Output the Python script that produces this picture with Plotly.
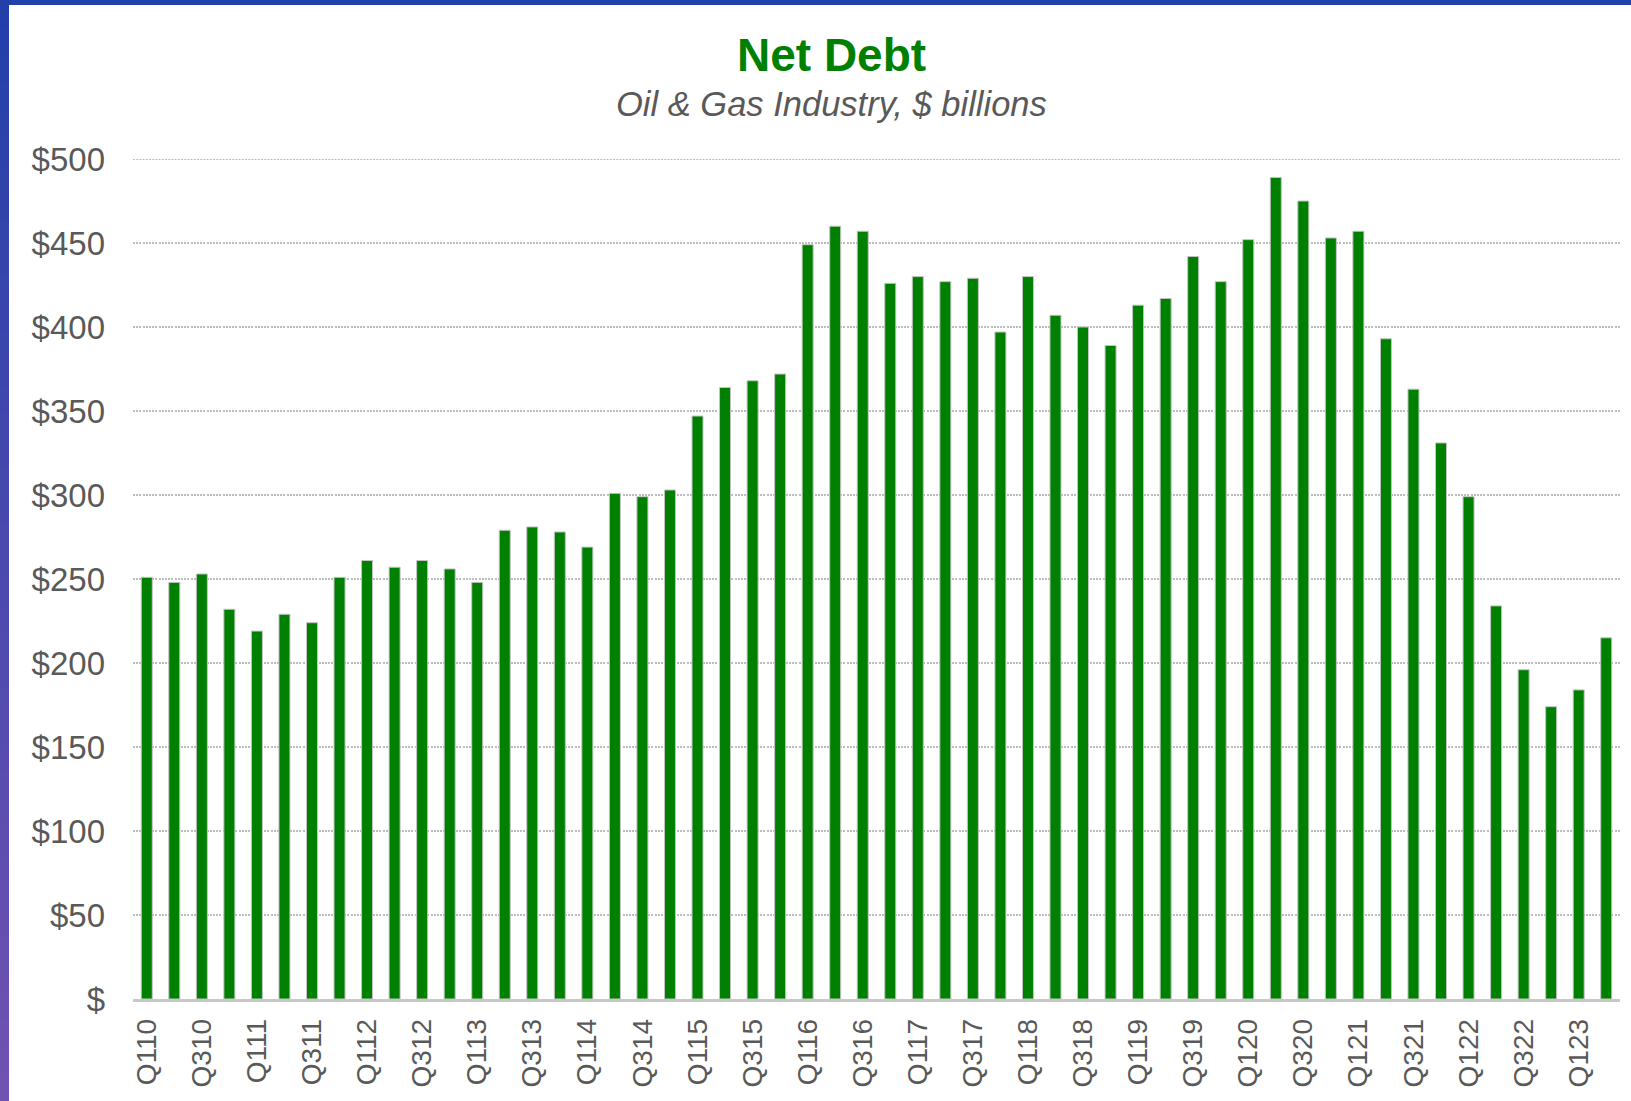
import plotly.graph_objects as go

categories = [
    "Q110", "Q210", "Q310", "Q410",
    "Q111", "Q211", "Q311", "Q411",
    "Q112", "Q212", "Q312", "Q412",
    "Q113", "Q213", "Q313", "Q413",
    "Q114", "Q214", "Q314", "Q414",
    "Q115", "Q215", "Q315", "Q415",
    "Q116", "Q216", "Q316", "Q416",
    "Q117", "Q217", "Q317", "Q417",
    "Q118", "Q218", "Q318", "Q418",
    "Q119", "Q219", "Q319", "Q419",
    "Q120", "Q220", "Q320", "Q420",
    "Q121", "Q221", "Q321", "Q421",
    "Q122", "Q222", "Q322", "Q422",
    "Q123", "Q223",
]

net_debt = [
    251, 248, 253, 232,
    219, 229, 224, 251,
    261, 257, 261, 256,
    248, 279, 281, 278,
    269, 301, 299, 303,
    347, 364, 368, 372,
    449, 460, 457, 426,
    430, 427, 429, 397,
    430, 407, 400, 389,
    413, 417, 442, 427,
    452, 489, 475, 453,
    457, 393, 363, 331,
    299, 234, 196, 174,
    184, 215,
]

x_tick_labels = categories[::2]
y_tick_values = [0, 50, 100, 150, 200, 250, 300, 350, 400, 450, 500]
y_tick_labels = ["$", "$50", "$100", "$150", "$200", "$250", "$300", "$350", "$400", "$450", "$500"]

W, H = 1631, 1101
ML, MR, MT, MB = 133, 11, 159, 102
PW = W - ML - MR
PH = H - MT - MB


def px_x(px):
    return (px - ML) / PW


def px_y(py):
    return (H - MB - py) / PH


FONT = "Liberation Sans, Arial, sans-serif"
GRID_COLOR = "#bdbdbd"
GRID_DASH = "2px,1.2px"

fig = go.Figure()
fig.add_trace(go.Bar(
    x=categories,
    y=net_debt,
    marker=dict(color="#008000", line=dict(color="#c4c4c4", width=1)),
    hoverinfo="x+y",
))

shapes = []
# top gridline (Plotly omits gridline on the range edge)
shapes.append(dict(type="line", xref="paper", yref="y", x0=0, x1=1,
                   y0=y_tick_values[-1], y1=y_tick_values[-1],
                   line=dict(color=GRID_COLOR, width=2, dash=GRID_DASH), layer="below"))
# left gradient strip
n = 40
c0 = (35, 64, 170)
c1 = (112, 82, 178)
for i in range(n):
    t = i / (n - 1)
    col = "rgb(%d,%d,%d)" % tuple(round(a + (b - a) * t) for a, b in zip(c0, c1))
    y_top = H * i / n
    y_bot = H * (i + 1) / n + 1
    shapes.append(dict(type="rect", xref="paper", yref="paper",
                       x0=px_x(0), x1=px_x(9), y0=px_y(y_bot), y1=px_y(y_top),
                       fillcolor=col, line=dict(width=0), layer="above"))
# top strip
shapes.append(dict(type="rect", xref="paper", yref="paper",
                   x0=px_x(0), x1=px_x(W), y0=px_y(5), y1=px_y(0),
                   fillcolor="rgb(35,64,170)", line=dict(width=0), layer="above"))

fig.update_layout(
    width=W, height=H,
    margin=dict(l=ML, r=MR, t=MT, b=MB, autoexpand=False),
    paper_bgcolor="white",
    plot_bgcolor="white",
    showlegend=False,
    bargap=0.6,
    font=dict(family=FONT, color="#595959"),
    shapes=shapes,
    annotations=[
        dict(text="<b>Net Debt</b>", xref="paper", yref="paper",
             x=px_x(831), y=px_y(55), xanchor="center", yanchor="middle",
             showarrow=False, font=dict(family=FONT, size=46, color="#008000")),
        dict(text="<i>Oil & Gas Industry, $ billions</i>", xref="paper", yref="paper",
             x=px_x(831), y=px_y(104), xanchor="center", yanchor="middle",
             showarrow=False, font=dict(family=FONT, size=34.5, color="#595959")),
    ],
    xaxis=dict(
        type="category",
        range=[-0.5, len(categories) - 0.5],
        tickmode="array",
        tickvals=x_tick_labels,
        ticktext=x_tick_labels,
        tickangle=-90,
        tickfont=dict(family=FONT, size=28, color="#595959"),
        showgrid=False,
        showline=True,
        linecolor="#c8c8c8",
        linewidth=2.5,
        ticks="",
        ticklabelstandoff=6,
        zeroline=False,
        automargin=False,
    ),
    yaxis=dict(
        range=[0, 500],
        tickmode="array",
        tickvals=y_tick_values,
        ticktext=y_tick_labels,
        tickfont=dict(family=FONT, size=33, color="#595959"),
        showgrid=True,
        gridcolor=GRID_COLOR,
        gridwidth=2,
        griddash=GRID_DASH,
        showline=False,
        zeroline=False,
        ticks="",
        ticklabelstandoff=27,
        automargin=False,
    ),
)

fig.write_html(
    "out.html",
    config={"displayModeBar": False},
    post_script="document.body.style.margin='0';document.body.style.overflow='hidden';",
)
